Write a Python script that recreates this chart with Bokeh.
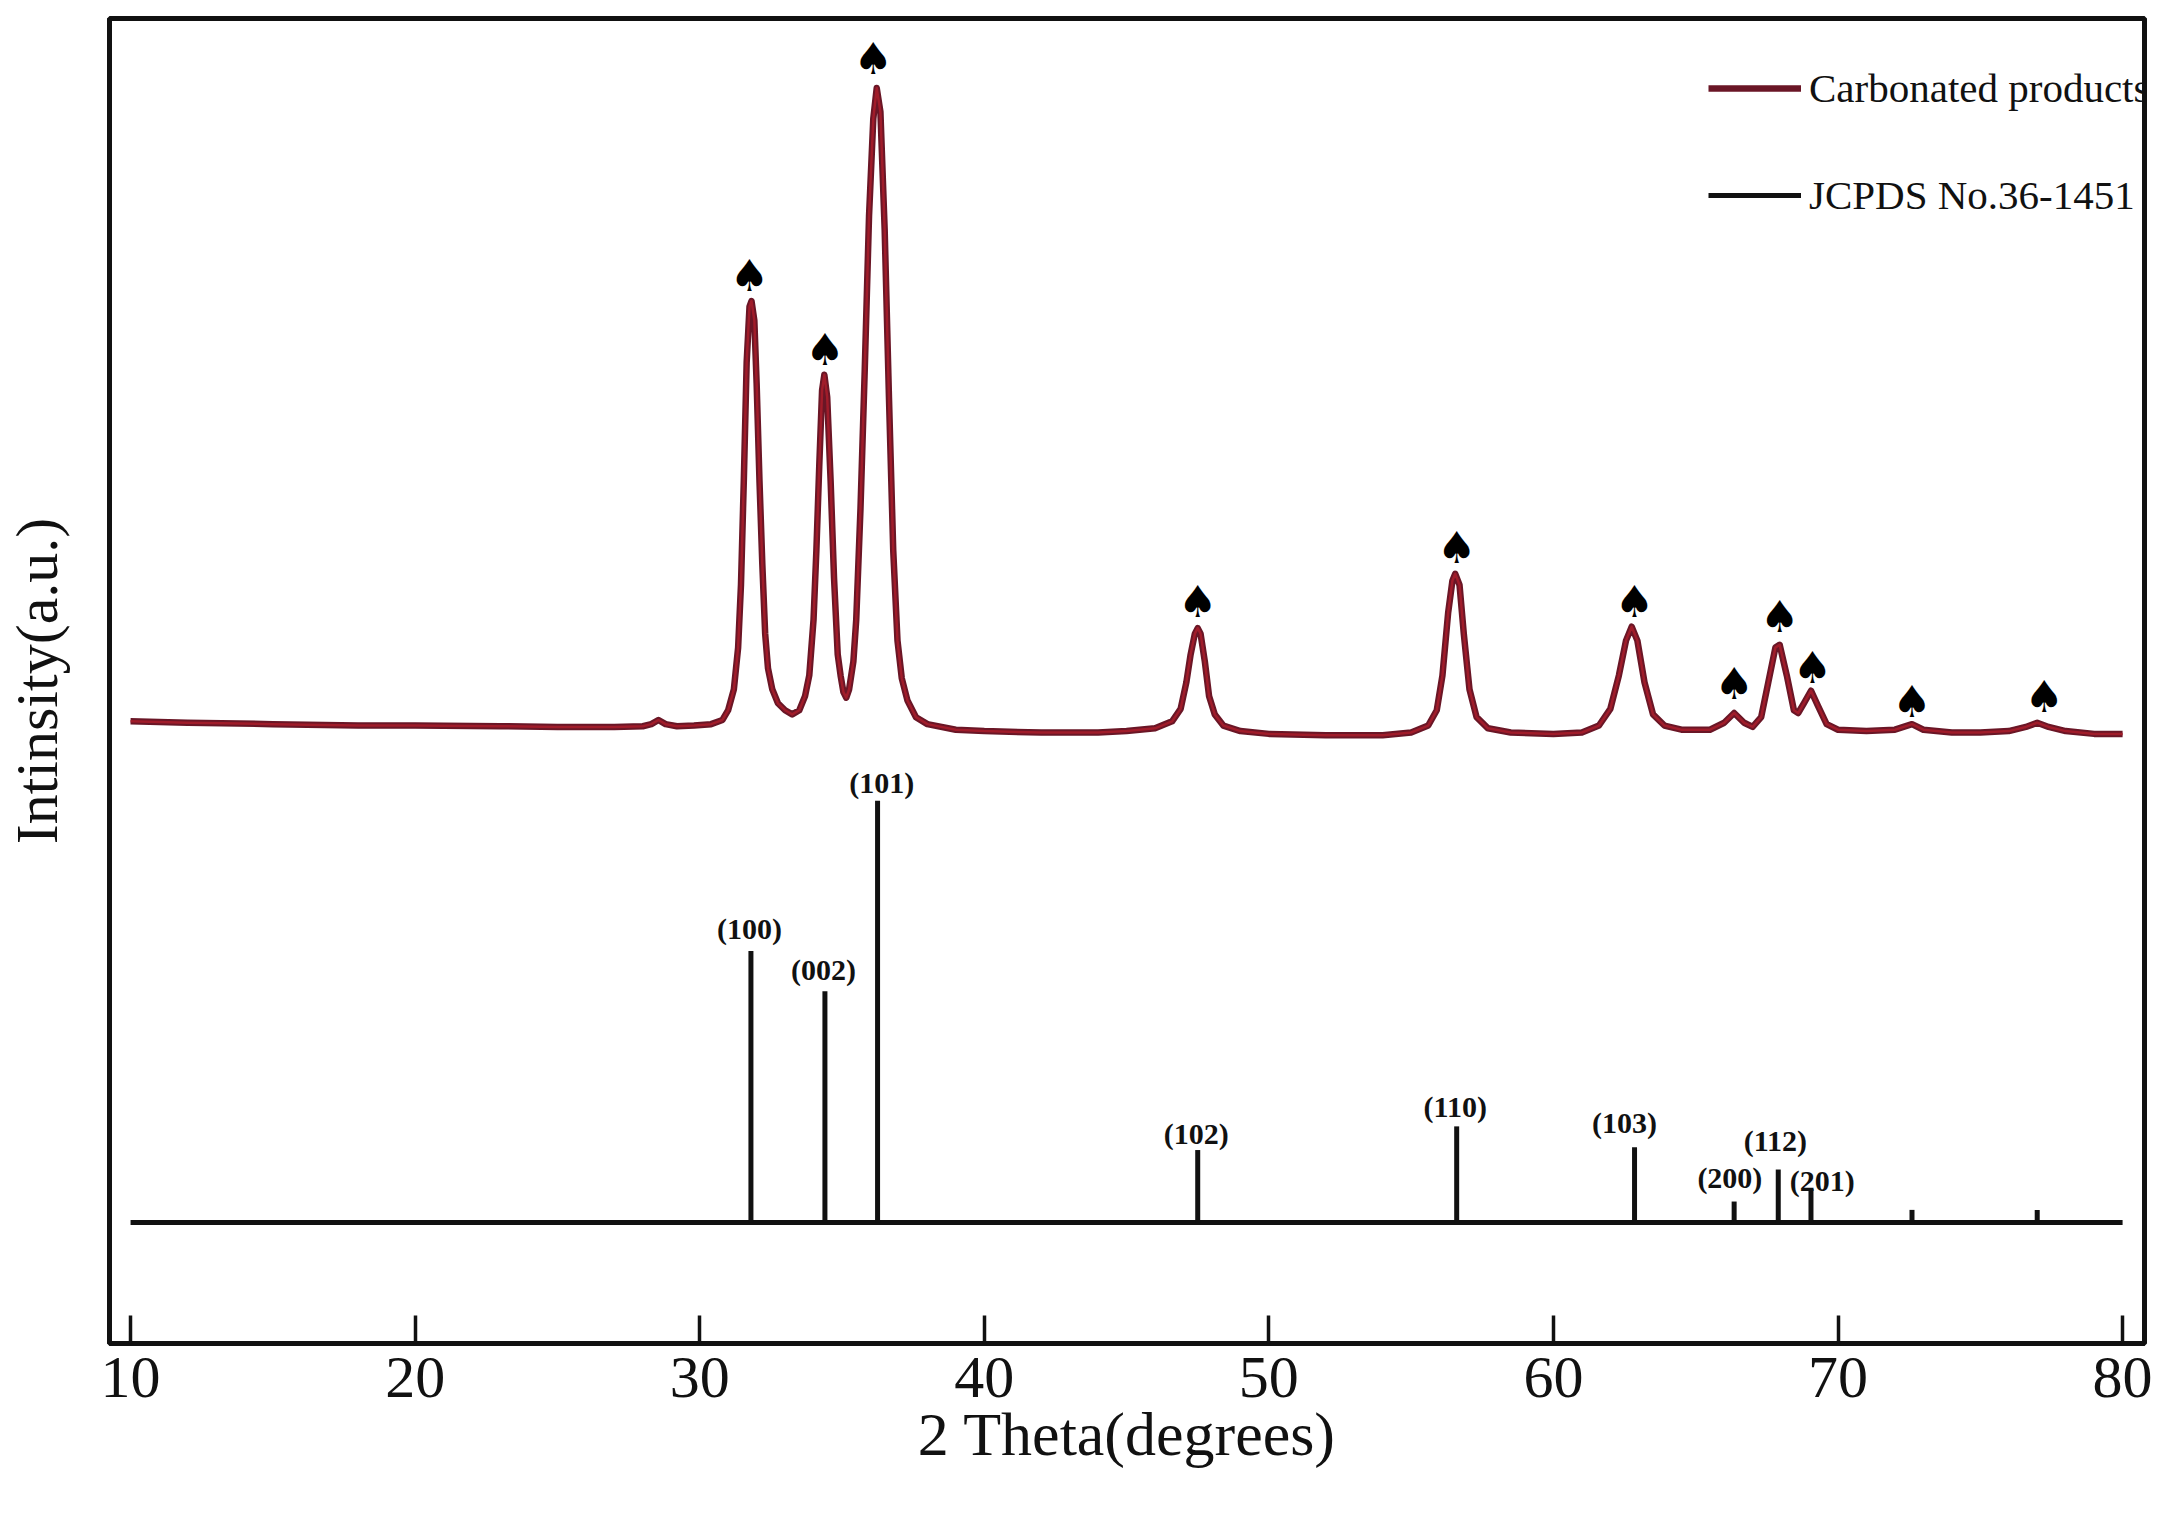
from bokeh.plotting import figure
from bokeh.models import ColumnDataSource, Legend, LegendItem, Range1d, FixedTicker
from bokeh.embed import file_html
from bokeh.resources import INLINE

curve_x = [10,12,15,18,20,23,25,27,28,28.3,28.55,28.8,29.2,29.8,30.4,30.8,31.0,31.2,31.35,31.45,31.55,31.65,31.75,31.82,31.92,32.0,32.1,32.2,32.3,32.4,32.55,32.75,33.0,33.25,33.5,33.7,33.85,34.0,34.1,34.2,34.3,34.38,34.48,34.6,34.72,34.85,34.95,35.05,35.15,35.25,35.4,35.5,35.65,35.8,35.95,36.1,36.22,36.35,36.5,36.65,36.8,36.95,37.1,37.3,37.6,38,39,40,42,44,45,46,46.6,46.9,47.1,47.25,47.4,47.5,47.6,47.75,47.9,48.1,48.4,49,50,52,54,55,55.6,55.9,56.1,56.3,56.45,56.55,56.7,56.85,57.05,57.3,57.7,58.5,60,61,61.6,62,62.3,62.55,62.75,62.95,63.2,63.5,63.9,64.5,65.5,66,66.35,66.7,67,67.3,67.55,67.8,67.95,68.2,68.45,68.6,68.8,69.05,69.3,69.6,70,71,72,72.6,73,74,75,76,76.6,77,77.4,78,79,80]
curve_y = [447,446,445,444,444,443.5,443,443,443.5,445,448,445,443.5,444,445,448,455,470,500,545,620,705,745,749,735,690,620,560,510,485,470,460,455,452,455,465,480,520,570,630,685,696,680,620,550,495,480,468,464,470,490,520,600,700,810,880,902,885,800,680,570,505,478,462,450,445,441,440,439,439,440,442,447,456,475,495,510,514,510,490,465,452,444,440,438,437,437,439,444,455,480,525,548,553,545,510,470,450,442,439,438,439,444,456,480,505,515,505,475,452,444,441,441,446,453,446,443,450,475,500,502,480,455,453,460,469,458,445,441,440,441,445,441,439,439,440,443,446,443,440,438,438]

ref_x = [31.8,34.4,36.25,47.5,56.6,62.85,66.35,67.9,69.05,72.6,77.0]
ref_top = [282,253,390,139,156,141,102,125,111,96,96]
ref_base = 87
ref_span_x = [10,80]

spade_x = [36.1,31.75,34.4,47.5,56.6,62.85,66.35,67.95,69.1,72.6,77.25]
spade_y = [923,767,714,533,572,533,474,522,486,461,465]

hkl_labels = ["(100)","(002)","(101)","(102)","(110)","(103)","(200)","(112)","(201)"]
hkl_x = [31.75,34.35,36.4,47.45,56.55,62.5,66.2,67.8,69.45]
hkl_y = [298,269,403,151,170,159,119,146,117]

x_ticks = [10,20,30,40,50,60,70,80]
SERIF = "Liberation Serif"

p = figure(width=2154, height=1497, output_backend="svg", toolbar_location=None,
           x_range=Range1d(9.26,80.77), y_range=Range1d(0,952),
           min_border_left=103, min_border_right=10, min_border_top=18, min_border_bottom=154,
           background_fill_color="white", border_fill_color="white",
           x_axis_label="2 Theta(degrees)", y_axis_label="Intinsity(a.u.)")
p.grid.visible = False
p.outline_line_color = "#111111"
p.outline_line_width = 5
p.outline_line_alpha = 1

ax = p.xaxis[0]
ax.ticker = FixedTicker(ticks=x_ticks)
ax.major_tick_in = 28
ax.major_tick_out = 0
ax.minor_tick_line_color = None
ax.major_tick_line_width = 3.5
ax.major_tick_line_color = "#111111"
ax.axis_line_width = 5
ax.axis_line_color = "#111111"
ax.major_label_text_font = SERIF
ax.major_label_text_font_size = "60px"
ax.major_label_text_color = "#111111"
ax.major_label_standoff = 14
ax.axis_label_text_font = SERIF
ax.axis_label_text_font_size = "62px"
ax.axis_label_text_font_style = "normal"
ax.axis_label_text_color = "#111111"
ax.axis_label_standoff = 0

ay = p.yaxis[0]
ay.ticker = FixedTicker(ticks=[])
ay.major_tick_line_color = None
ay.minor_tick_line_color = None
ay.axis_line_width = 5
ay.axis_line_color = "#111111"
ay.axis_label_text_font = SERIF
ay.axis_label_text_font_size = "60px"
ay.axis_label_text_font_style = "normal"
ay.axis_label_text_color = "#111111"
ay.axis_label_standoff = 40

dark = p.line(curve_x, curve_y, line_color="#6a1626", line_width=6.5, line_join="round")
p.line(curve_x, curve_y, line_color="#a01c2a", line_width=2.5, line_join="round")

base = p.line(ref_span_x, [ref_base, ref_base], line_color="#111111", line_width=5)
p.segment(x0=ref_x, y0=[ref_base]*len(ref_x), x1=ref_x, y1=ref_top, line_color="#111111", line_width=5)

p.text(x=spade_x, y=spade_y, text=["\u2660"]*len(spade_x), text_font={"value":"DejaVu Sans"},
       text_font_size={"value":"44px"}, text_align="center", text_baseline="middle", text_color="black")
p.text(x=hkl_x, y=hkl_y, text=hkl_labels, text_font={"value":SERIF}, text_font_size={"value":"30px"},
       text_font_style="bold", text_align="center", text_baseline="middle", text_color="#111111")

legend = Legend(items=[LegendItem(label="Carbonated products", renderers=[dark]),
                       LegendItem(label="JCPDS No.36-1451", renderers=[base])],
                location=(1599,1124), orientation="vertical",
                glyph_width=93, glyph_height=40, label_height=40, spacing=59,
                label_standoff=8, padding=0, margin=0,
                label_text_font=SERIF, label_text_font_size="41px", label_text_color="#111111",
                background_fill_alpha=0, border_line_color=None)
p.add_layout(legend)

open("out.html","w").write(file_html(p, INLINE))
